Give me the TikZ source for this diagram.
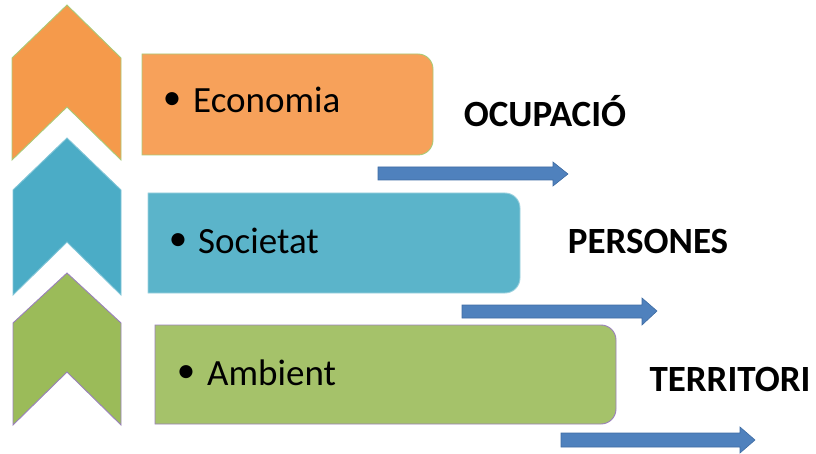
\documentclass[tikz,border=0pt]{standalone}
\usepackage{fontspec}
\setmainfont{Carlito}
\definecolor{orgA}{HTML}{F59A4B}
\definecolor{orgB}{HTML}{F7A15A}
\definecolor{bluA}{HTML}{4BACC6}
\definecolor{bluB}{HTML}{5BB4CA}
\definecolor{grnA}{HTML}{9BBB59}
\definecolor{grnB}{HTML}{A5C26A}
\definecolor{lgrn}{HTML}{A9CB78}
\definecolor{purp}{HTML}{9A80BC}
\definecolor{arrF}{HTML}{4F81BD}
\definecolor{arrD}{HTML}{3F6CA3}
\tikzset{
  chev/.style={line width=0.9pt, line join=miter},
  box/.style={line width=0.9pt, rounded corners=0pt},
  blt/.style={anchor=west, font=\fontsize{37}{40}\selectfont, inner sep=0pt},
  dot/.style={anchor=center, font=\fontsize{37}{40}\selectfont, inner sep=0pt},
  lbl/.style={anchor=center, font=\fontsize{37}{40}\selectfont\bfseries, inner sep=0pt},
  barrow/.style={fill=arrF, draw=arrD, line width=0.6pt, line join=miter},
}
\begin{document}
\begin{tikzpicture}[x=1pt,y=-1pt]
\useasboundingbox (0,0) rectangle (816,454);
% chevrons
\draw[chev, fill=orgA, draw=lgrn] (12,58) -- (67,5) -- (121,58) -- (121,160) -- (67,107) -- (12,160) -- cycle;
\draw[chev, fill=bluA, draw=bluA!70!white] (13,190) -- (67,138) -- (121,190) -- (121,295) -- (67,242) -- (13,295) -- cycle;
\draw[chev, fill=grnA, draw=purp] (13,323) -- (67,273) -- (121,323) -- (121,425) -- (67,372) -- (13,425) -- cycle;
% boxes
\draw[box, fill=orgB, draw=lgrn] (142,54) -- (418,54) [rounded corners=15pt] -- (433,54) -- (433,155) [rounded corners=0pt] -- (142,155) -- cycle;
\draw[box, fill=bluB, draw=bluB!60!white] (148,193) -- (505,193) [rounded corners=15pt] -- (520,193) -- (520,293) [rounded corners=0pt] -- (148,293) -- cycle;
\draw[box, fill=grnB, draw=purp] (155,325) -- (600,325) [rounded corners=15pt] -- (616,325) -- (616,424) [rounded corners=0pt] -- (155,424) -- cycle;
% bullet texts
\node[dot] (d1) at (172,101) {\textbullet};
\node[blt] (t1) at (193,100) {Economia};
\node[dot] (d2) at (178,242) {\textbullet};
\node[blt] (t2) at (198,241) {Societat};
\node[dot] (d3) at (186,374) {\textbullet};
\node[blt] (t3) at (207,373) {Ambient};
% labels
\node[lbl] (l1) at (545,111) {OCUPACIÓ};
\node[lbl] (l2) at (648,241) {PERSONES};
\node[lbl] (l3) at (730,379) {TERRITORI};
% arrows
\draw[barrow] (378,167) -- (553,167) -- (553,162) -- (568,174) -- (553,186) -- (553,180) -- (378,180) -- cycle;
\draw[barrow] (462,305) -- (642,305) -- (642,298) -- (657,311) -- (642,325) -- (642,318) -- (462,318) -- cycle;
\draw[barrow] (561,433) -- (740,433) -- (740,427) -- (755,440) -- (740,453) -- (740,447) -- (561,447) -- cycle;
\end{tikzpicture}
\end{document}
